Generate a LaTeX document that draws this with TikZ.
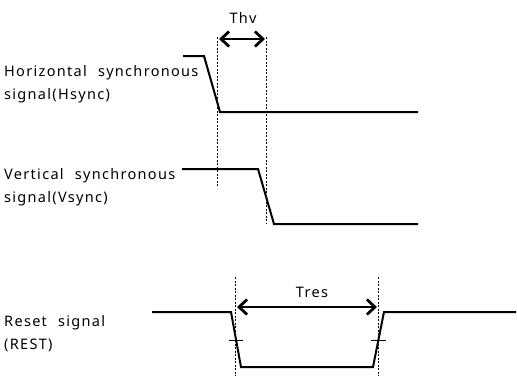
\documentclass[tikz,border=0pt]{standalone}
\usepackage{fontspec}
\setmainfont{Noto Sans}[LetterSpace=9,WordSpace=2.2]
\usetikzlibrary{arrows.meta}
\begin{document}
\begin{tikzpicture}[x=1pt,y=-1pt,
  sig/.style={line width=2pt,line join=miter},
  guide/.style={line width=0.6pt,dash pattern=on 2pt off 1.5pt},
  dim/.style={line width=2.8pt,{Straight Barb[length=8pt,width=15pt]}-{Straight Barb[length=8pt,width=15pt]}},
  lbl/.style={anchor=west,align=left,inner sep=0pt,font=\fontsize{14.5}{23}\selectfont},
  dimlbl/.style={inner sep=0pt,font=\fontsize{14.5}{15}\selectfont},
  tick/.style={line width=0.6pt}]
\useasboundingbox (0,0) rectangle (517,376);
% labels
\node[lbl] (hl) at (4,84) {Horizontal synchronous\\signal(Hsync)};
\node[lbl] (vl) at (4,187) {Vertical synchronous\\signal(Vsync)};
\node[lbl] (rl) at (4,334) {Reset signal\\(REST)};
% guides
\draw[guide] (217,37) -- (217,186);
\draw[guide] (266,37) -- (266,223);
\draw[guide] (235,277) -- (235,376);
\draw[guide] (378,277) -- (378,376);
% Hsync
\draw[sig] (183,56) -- (204,56) -- (220,112) -- (418,112);
% Vsync
\draw[sig] (182,169) -- (258,169) -- (274,224) -- (418,224);
% Reset
\draw[sig] (152,312) -- (231,312) -- (241,367) -- (373,367) -- (384,312) -- (516,312);
% ticks
\draw[tick] (229,340) -- (243,340);
\draw[tick] (371,340) -- (386,340);
% dimensions
\coordinate (t1a) at (219,39); \coordinate (t1b) at (265,39);
\draw[dim] (t1a) -- (t1b);
\node[dimlbl] (thv) at (243,18) {Thv};
\coordinate (t2a) at (237,307); \coordinate (t2b) at (377,307);
\draw[dim] (t2a) -- (t2b);
\node[dimlbl] (tres) at (312,292) {Tres};
\end{tikzpicture}
\end{document}
